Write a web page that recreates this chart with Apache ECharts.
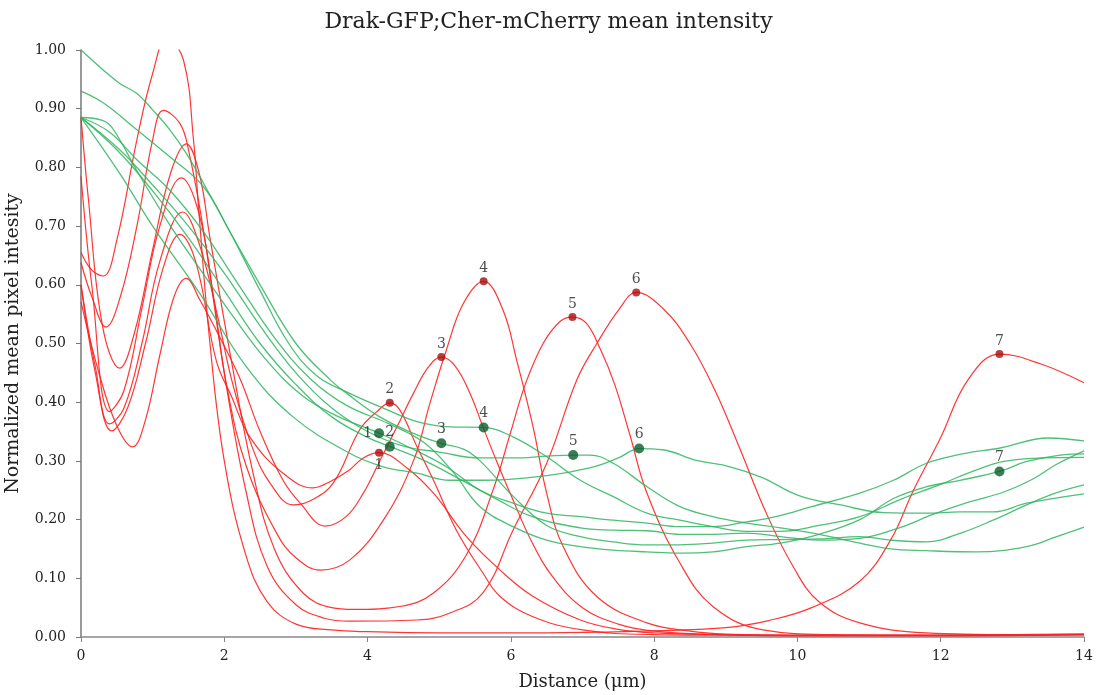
<!DOCTYPE html>
<html>
<head>
<meta charset="utf-8">
<script src="https://cdn.jsdelivr.net/npm/echarts@6/dist/echarts.min.js"></script>
<style>
  html, body { margin: 0; padding: 0; background: #fff; }
  #chart { width: 1097px; height: 695px; }
</style>
</head>
<body>
<div id="chart"></div>
<script>
// x ticks 0..14, y ticks 0..1
const xTicks = [0, 2, 4, 6, 8, 10, 12, 14];
const yTicks = [0, 0.1, 0.2, 0.3, 0.4, 0.5, 0.6, 0.7, 0.8, 0.9, 1.0];

// mCherry (red) profiles, [distance, intensity]
const red1 = [[0,0.60],[0.2,0.45],[0.43,0.351],[0.65,0.39],[0.9,0.5],[1.15,0.63],[1.38,0.686],[1.6,0.64],[1.89,0.47],[2.1,0.41],[2.36,0.34],[2.82,0.279],[3.24,0.254],[3.48,0.265],[3.75,0.285],[3.94,0.305],[4.16,0.314],[4.55,0.288],[4.92,0.245],[5.38,0.171],[5.85,0.114],[6.3,0.07],[6.97,0.029],[7.5,0.013],[8,0.007],[9,0.004],[10,0.003],[12,0.003],[13,0.004],[14,0.005]];
const red2 = [[0,0.60],[0.2,0.46],[0.4,0.363],[0.6,0.39],[0.85,0.5],[1.1,0.64],[1.42,0.724],[1.65,0.67],[1.9,0.55],[2.12,0.43],[2.4,0.32],[2.65,0.26],[2.96,0.225],[3.2,0.232],[3.52,0.262],[3.89,0.353],[4.13,0.384],[4.31,0.399],[4.45,0.387],[4.69,0.324],[4.92,0.267],[5.24,0.182],[5.61,0.109],[5.85,0.069],[6.3,0.035],[7,0.012],[8,0.004],[9,0.003],[10,0.002],[12,0.002],[14,0.004]];
const red3 = [[0,0.571],[0.25,0.45],[0.5,0.36],[0.72,0.324],[0.9,0.37],[1.1,0.48],[1.3,0.58],[1.47,0.611],[1.66,0.574],[1.94,0.51],[2.22,0.44],[2.5,0.35],[2.82,0.267],[3.06,0.228],[3.41,0.189],[3.7,0.205],[3.94,0.245],[4.17,0.30],[4.41,0.358],[4.64,0.415],[4.85,0.46],[5.03,0.477],[5.22,0.462],[5.43,0.415],[5.61,0.358],[5.8,0.30],[5.99,0.245],[6.3,0.16],[6.6,0.1],[7,0.05],[7.5,0.022],[8,0.01],[9,0.004],[10,0.003],[12,0.003],[14,0.004]];
const red4 = [[0,0.785],[0.15,0.6],[0.4,0.384],[0.6,0.42],[0.85,0.56],[1.1,0.7],[1.4,0.782],[1.65,0.72],[1.85,0.58],[2.03,0.43],[2.31,0.29],[2.73,0.177],[3.0,0.135],[3.34,0.114],[3.75,0.131],[4.22,0.199],[4.64,0.30],[4.87,0.398],[5.1,0.489],[5.34,0.569],[5.62,0.606],[5.89,0.557],[6.08,0.472],[6.31,0.358],[6.5,0.245],[6.73,0.154],[7.2,0.069],[7.9,0.024],[8.5,0.01],[9,0.005],[10,0.003],[12,0.003],[14,0.004]];
const red5 = [[0,0.886],[0.1,0.75],[0.3,0.53],[0.54,0.458],[0.75,0.52],[1.0,0.66],[1.25,0.79],[1.47,0.84],[1.65,0.79],[1.8,0.68],[2.1,0.47],[2.4,0.28],[2.7,0.15],[3.1,0.075],[3.5,0.05],[3.8,0.047],[4.45,0.052],[4.92,0.075],[5.38,0.14],[5.75,0.25],[6.0,0.35],[6.2,0.43],[6.45,0.5],[6.69,0.538],[6.86,0.545],[7.05,0.535],[7.25,0.49],[7.45,0.43],[7.66,0.345],[7.9,0.245],[8.36,0.126],[8.82,0.052],[9.52,0.012],[10.5,0.004],[12,0.003],[14,0.004]];
const red6 = [[0,0.638],[0.15,0.58],[0.35,0.528],[0.55,0.58],[0.78,0.70],[1.0,0.847],[1.15,0.897],[1.38,0.875],[1.5,0.83],[1.7,0.7],[2.0,0.45],[2.3,0.25],[2.6,0.12],[3.0,0.055],[3.4,0.032],[3.75,0.027],[4.69,0.029],[5.15,0.041],[5.61,0.075],[6.03,0.182],[6.5,0.296],[6.92,0.438],[7.2,0.5],[7.52,0.56],[7.75,0.587],[8.12,0.56],[8.5,0.5],[8.85,0.42],[9.2,0.32],[9.55,0.215],[9.94,0.12],[10.3,0.06],[10.87,0.024],[11.8,0.007],[13,0.004],[14,0.005]];
const red7 = [[0,0.655],[0.15,0.625],[0.31,0.615],[0.5,0.676],[0.78,0.847],[1.0,0.96],[1.2,1.02],[1.43,0.983],[1.57,0.847],[1.64,0.733],[1.8,0.5],[2.0,0.3],[2.3,0.14],[2.6,0.06],[3.0,0.022],[3.5,0.012],[4,0.009],[5,0.007],[6,0.007],[7,0.008],[8.08,0.011],[9,0.016],[9.6,0.028],[10.2,0.05],[10.87,0.095],[11.3,0.165],[11.62,0.25],[12.0,0.34],[12.38,0.438],[12.82,0.482],[13.4,0.465],[14,0.433]];

// GFP (green) profiles
const green1 = [[0,0.885],[0.3,0.88],[0.45,0.865],[0.8,0.79],[1.25,0.70],[1.7,0.62],[2.1,0.55],[2.6,0.47],[3.1,0.41],[3.6,0.375],[4.15,0.348],[4.6,0.322],[5.1,0.29],[5.57,0.25],[6.03,0.228],[6.5,0.211],[6.97,0.205],[7.43,0.199],[7.9,0.194],[8.36,0.188],[8.82,0.188],[9.29,0.196],[9.7,0.205],[10.2,0.222],[10.87,0.245],[11.34,0.267],[11.8,0.296],[12.3,0.312],[12.83,0.322],[13.5,0.339],[14,0.334]];
const green2 = [[0,0.885],[0.5,0.83],[1.0,0.76],[1.5,0.68],[2.0,0.59],[2.5,0.5],[3.0,0.43],[3.5,0.375],[4.0,0.34],[4.3,0.325],[4.8,0.3],[5.3,0.268],[5.8,0.235],[6.3,0.205],[6.97,0.186],[7.43,0.182],[7.9,0.181],[8.36,0.175],[8.82,0.175],[9.29,0.177],[9.76,0.171],[10.3,0.165],[10.87,0.168],[11.4,0.185],[11.92,0.21],[12.4,0.23],[12.88,0.247],[13.3,0.27],[13.6,0.293],[14,0.317]];
const green3 = [[0,0.93],[0.31,0.91],[0.78,0.864],[1.24,0.818],[1.71,0.767],[2.08,0.69],[2.5,0.6],[3.0,0.5],[3.48,0.438],[3.71,0.415],[4.17,0.375],[4.64,0.347],[5.03,0.33],[5.34,0.32],[5.57,0.3],[6.03,0.24],[6.5,0.19],[6.97,0.171],[7.43,0.162],[7.9,0.157],[8.36,0.157],[8.82,0.16],[9.29,0.165],[9.76,0.166],[10.3,0.167],[10.87,0.171],[11.3,0.165],[11.8,0.162],[12.3,0.178],[12.73,0.199],[13.2,0.225],[13.6,0.245],[14,0.259]];
const green4 = [[0,1.0],[0.31,0.966],[0.54,0.943],[0.78,0.926],[1.0,0.898],[1.24,0.864],[1.47,0.824],[1.71,0.773],[2.08,0.69],[2.5,0.59],[2.9,0.5],[3.29,0.445],[3.75,0.415],[4.22,0.39],[4.69,0.367],[5.15,0.358],[5.62,0.357],[6.03,0.341],[6.5,0.307],[6.97,0.267],[7.43,0.239],[7.9,0.211],[8.36,0.199],[8.82,0.188],[9.29,0.18],[9.76,0.18],[10.3,0.19],[10.87,0.205],[11.45,0.235],[12.0,0.26],[12.4,0.28],[12.88,0.299],[13.4,0.305],[14,0.306]];
const green5 = [[0,0.885],[0.54,0.83],[1.0,0.77],[1.5,0.7],[2.0,0.62],[2.5,0.53],[3.0,0.45],[3.5,0.39],[4.0,0.35],[4.5,0.325],[5.0,0.315],[5.57,0.305],[6.03,0.305],[6.5,0.308],[6.87,0.31],[7.1,0.31],[7.43,0.296],[7.9,0.256],[8.36,0.222],[8.82,0.205],[9.29,0.194],[9.76,0.186],[10.3,0.175],[10.87,0.16],[11.3,0.15],[11.8,0.147],[12.5,0.145],[13.2,0.154],[13.6,0.17],[14,0.187]];
const green6 = [[0,0.885],[0.54,0.79],[1.0,0.70],[1.66,0.585],[2.31,0.46],[2.96,0.375],[3.75,0.313],[4.22,0.29],[4.69,0.279],[5.15,0.267],[5.61,0.267],[6.5,0.275],[7.1,0.288],[7.5,0.305],[7.79,0.321],[8.12,0.319],[8.59,0.301],[9.06,0.29],[9.5,0.272],[10.02,0.241],[10.6,0.225],[11.2,0.212],[11.8,0.211],[12.27,0.213],[12.73,0.213],[13.2,0.228],[14,0.244]];
const green7 = [[0,0.885],[0.4,0.86],[0.78,0.813],[1.24,0.761],[1.71,0.69],[2.2,0.6],[2.7,0.51],[3.2,0.44],[3.7,0.395],[4.3,0.363],[4.8,0.33],[5.2,0.28],[5.57,0.222],[6.03,0.188],[6.5,0.165],[6.97,0.154],[7.43,0.148],[7.9,0.145],[8.36,0.143],[8.82,0.145],[9.29,0.154],[9.76,0.16],[10.3,0.175],[10.87,0.2],[11.34,0.236],[11.8,0.256],[12.27,0.267],[12.82,0.282],[13.2,0.299],[13.67,0.31],[14,0.312]];

// labelled peaks
const peakLabels = ['1', '2', '3', '4', '5', '6', '7'];
const redPeaks = [[4.16,0.314],[4.31,0.399],[5.03,0.477],[5.62,0.606],[6.86,0.545],[7.75,0.587],[12.82,0.482]];
const greenPeaks = [[4.16,0.347],[4.31,0.324],[5.03,0.33],[5.62,0.357],[6.87,0.31],[7.79,0.321],[12.82,0.282]];

const redCurves = [red1, red2, red3, red4, red5, red6, red7];
const greenCurves = [green1, green2, green3, green4, green5, green6, green7];

const FONT = 'DejaVu Serif';
const chart = echarts.init(document.getElementById('chart'));

const series = [];
redCurves.forEach((d) => {
  series.push({
    type: 'line', data: d, smooth: 0.4, showSymbol: false, silent: true,
    lineStyle: { color: '#ff2020', width: 1.2, opacity: 0.9 }, z: 2
  });
});
greenCurves.forEach((d) => {
  series.push({
    type: 'line', data: d, smooth: 0.4, showSymbol: false, silent: true,
    lineStyle: { color: '#2fb560', width: 1.3, opacity: 0.85 }, z: 3
  });
});

function peakSeries(points, color, size, positions) {
  return {
    type: 'scatter', symbolSize: size, z: 5,
    itemStyle: { color: color },
    data: points.map((p, i) => ({
      value: p,
      label: { show: true, formatter: peakLabels[i], position: positions[i] || 'top', distance: 2 }
    })),
    label: { color: '#222', fontFamily: FONT, fontSize: 14 }
  };
}
series.push(peakSeries(redPeaks, '#a80e0e', 8, ['bottom', 'top', 'top', 'top', 'top', 'top', 'top']));
series.push(peakSeries(greenPeaks, '#0b5c2c', 10, ['left', 'top', 'top', 'top', 'top', 'top', 'top']));

const option = {
  animation: false,
  backgroundColor: '#fff',
  title: {
    text: 'Drak-GFP;Cher-mCherry mean intensity',
    left: 'center', top: 6,
    textStyle: { fontFamily: FONT, fontSize: 22, fontWeight: 'normal', color: '#222' }
  },
  grid: { left: 81, right: 13, top: 50, bottom: 58, containLabel: false, outerBoundsMode: 'none' },
  xAxis: {
    type: 'value', min: 0, max: 14, interval: 2,
    name: 'Distance (μm)', nameLocation: 'middle', nameGap: 36,
    nameTextStyle: { fontFamily: FONT, fontSize: 18, color: '#222' },
    axisLine: { lineStyle: { color: '#888', width: 1.5 } },
    axisTick: { show: true, length: 5, lineStyle: { color: '#888' } },
    axisLabel: { fontFamily: FONT, fontSize: 14, color: '#222', margin: 12,
      formatter: (v) => xTicks.includes(v) ? String(v) : '' },
    splitLine: { show: false }
  },
  yAxis: {
    type: 'value', min: 0, max: 1, interval: 0.1,
    name: 'Normalized mean pixel intesity', nameLocation: 'middle', nameGap: 58,
    nameTextStyle: { fontFamily: FONT, fontSize: 19, color: '#222' },
    axisLine: { show: true, lineStyle: { color: '#777', width: 1.5 } },
    axisTick: { show: true, length: 5, lineStyle: { color: '#777' } },
    axisLabel: { fontFamily: FONT, fontSize: 14, color: '#222', margin: 15,
      formatter: (v) => yTicks.some(t => Math.abs(t - v) < 1e-6) ? v.toFixed(2) : '' },
    splitLine: { show: false }
  },
  series: series
};

chart.setOption(option);
</script>
</body>
</html>
